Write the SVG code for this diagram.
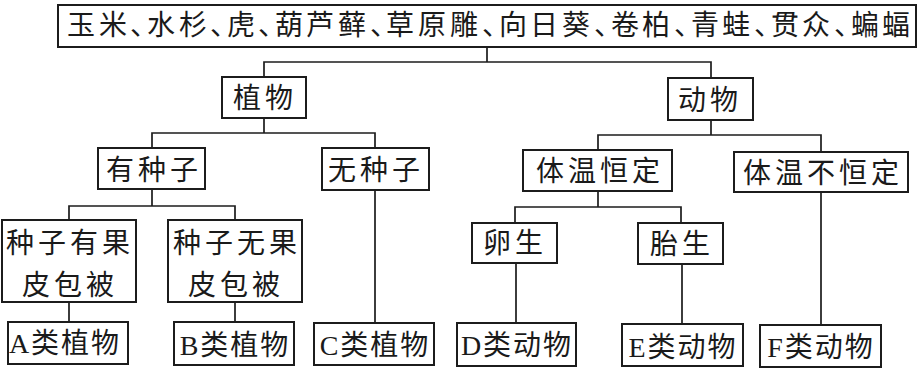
<svg xmlns="http://www.w3.org/2000/svg" width="923" height="373" viewBox="0 0 923 373">
<style>
.box{fill:#fff;stroke:#1c1c1c;stroke-width:2}
.ln{fill:none;stroke:#1c1c1c;stroke-width:1.7}
text{font-family:"Liberation Serif","Noto Sans CJK SC",serif;font-size:28px;fill:#1a1a1a}
.c{text-anchor:middle;letter-spacing:4px}
.b{text-anchor:middle;letter-spacing:2px}
</style>
<rect width="923" height="373" fill="#fff"/>
<g id="connectors">
<path class="ln" d="M487,47 V62 M264,77 V62 H711 V78"/>
<path class="ln" d="M264,118 V133 M152,148 V133 H375 V148"/>
<path class="ln" d="M152,189 V206 M69,220 V206 H235 V220"/>
<path class="ln" d="M69,302 V322 M235,302 V322 M375,190 V323"/>
<path class="ln" d="M711,120 V135 M598,150 V135 H821 V152"/>
<path class="ln" d="M598,191 V207 M515,223 V207 H681 V223"/>
<path class="ln" d="M516,263 V323 M682,264 V324 M821,192 V325"/>
</g>
<g id="root">
<rect class="box" x="58" y="5" width="858" height="42"/>
<text y="35" x="67 99 130 147 179 210 227 258 275 306 338 370 386 418 450 482 499 530 562 594 611 642 674 691 722 754 771 802 834 851 882">玉米、水杉、虎、葫芦藓、草原雕、向日葵、卷柏、青蛙、贯众、蝙蝠</text>
</g>
<g id="plants">
<rect class="box" x="222" y="77" width="84" height="41"/>
<text class="c" x="265" y="108">植物</text>
</g>
<g id="animals">
<rect class="box" x="668" y="78" width="85" height="42"/>
<text class="c" x="710" y="110">动物</text>
</g>
<g id="seed">
<rect class="box" x="98" y="148" width="107" height="41"/>
<text class="c" x="154" y="180">有种子</text>
</g>
<g id="noseed">
<rect class="box" x="322" y="148" width="107" height="42"/>
<text class="c" x="376" y="180">无种子</text>
</g>
<g id="constant">
<rect class="box" x="523" y="150" width="149" height="41"/>
<text class="c" x="600" y="181">体温恒定</text>
</g>
<g id="variable">
<rect class="box" x="734" y="152" width="174" height="40"/>
<text class="c" x="823" y="183">体温不恒定</text>
</g>
<g id="covered">
<rect class="box" x="2" y="220" width="134" height="82"/>
<text class="c" x="70" y="253">种子有果</text>
<text class="c" x="70" y="295">皮包被</text>
</g>
<g id="naked">
<rect class="box" x="168" y="220" width="134" height="82"/>
<text class="c" x="237" y="253">种子无果</text>
<text class="c" x="236" y="295">皮包被</text>
</g>
<g id="oviparous">
<rect class="box" x="472" y="223" width="85" height="40"/>
<text class="c" x="515" y="253">卵生</text>
</g>
<g id="viviparous">
<rect class="box" x="638" y="223" width="85" height="41"/>
<text class="c" x="682" y="254">胎生</text>
</g>
<g id="A">
<rect class="box" x="8" y="322" width="120" height="42"/>
<text class="b" x="65" y="353">A类植物</text>
</g>
<g id="B">
<rect class="box" x="174" y="322" width="120" height="43"/>
<text class="b" x="235" y="355">B类植物</text>
</g>
<g id="C">
<rect class="box" x="314" y="323" width="120" height="42"/>
<text class="b" x="375" y="355">C类植物</text>
</g>
<g id="D">
<rect class="box" x="457" y="323" width="119" height="43"/>
<text class="b" x="517" y="355">D类动物</text>
</g>
<g id="E">
<rect class="box" x="622" y="324" width="121" height="42"/>
<text class="b" x="683" y="357">E类动物</text>
</g>
<g id="F">
<rect class="box" x="760" y="325" width="121" height="42"/>
<text class="b" x="821" y="357">F类动物</text>
</g>
</svg>
